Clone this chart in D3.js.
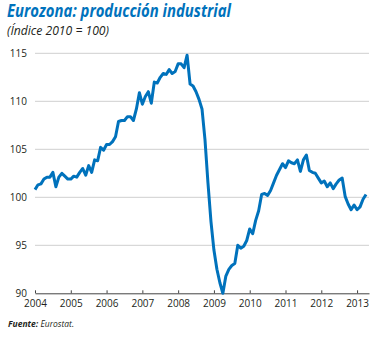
<!DOCTYPE html>
<html lang="es">
  <head>
    <meta charset="UTF-8" />
    <title>Eurozona: producción industrial</title>
    <style>
      body {
        margin: 0;
        background: #fff;
      }
      svg text {
        font-family: "Open Sans", "Noto Sans", sans-serif;
      }
    </style>
  </head>
  <body>
    <script src="https://d3js.org/d3.v7.min.js"></script>
    <script>

// monthly index, Jan 2004 onwards (2010 = 100)
var startYear = 2004;
var values = [
  100.8, 101.3, 101.4, 101.9, 102.1, 102.1, 102.6, 101.1, 102.1, 102.5, 102.2, 101.9,
  101.9, 102.2, 102.1, 102.6, 103.0, 102.3, 103.3, 102.6, 103.9, 103.8, 105.2, 104.9,
  105.5, 105.5, 105.8, 106.3, 107.9, 108.0, 108.0, 108.4, 108.4, 108.0, 109.2, 110.9,
  109.7, 110.5, 111.0, 109.8, 112.0, 111.9, 112.5, 112.9, 112.8, 113.3, 112.9, 113.1,
  113.9, 113.9, 113.5, 114.8, 111.8, 111.6, 111.0, 110.2, 109.2, 106.0, 101.5, 97.5,
  94.5, 92.5, 91.1, 90.0, 91.8, 92.5, 92.9, 93.1, 95.0, 94.7, 94.9, 95.5,
  96.7, 96.2, 97.6, 98.6, 100.3, 100.4, 100.2, 100.7, 101.5, 102.3, 102.9, 103.5,
  103.1, 103.8, 103.6, 103.5, 103.9, 102.7, 103.9, 104.4, 102.8, 102.6, 102.5, 102.0,
  101.5, 101.7, 101.1, 101.5, 100.9, 101.4, 101.8, 102.0, 100.1, 99.3, 98.7, 99.2,
  98.7, 99.0, 99.8, 100.3
];
var years = [2004, 2005, 2006, 2007, 2008, 2009, 2010, 2011, 2012, 2013];
var yTicks = [90, 95, 100, 105, 110, 115];

var width = 382,
    height = 338;

var svg = d3.select("body").append("svg")
  .attr("width", width)
  .attr("height", height);

var x = d3.scaleLinear()
  .domain([startYear, startYear + 112 / 12])
  .range([35, 369]);

var y = d3.scaleLinear()
  .domain([90, 115])
  .range([293.3, 53.3]);

// titles
svg.append("text")
  .attr("x", 7)
  .attr("y", 17)
  .attr("fill", "#0072bc")
  .attr("font-size", 17)
  .attr("font-weight", "bold")
  .attr("font-style", "italic")
  .attr("textLength", 224)
  .attr("lengthAdjust", "spacingAndGlyphs")
  .text("Eurozona: producción industrial");

svg.append("text")
  .attr("x", 7)
  .attr("y", 35)
  .attr("fill", "#231f20")
  .attr("font-size", 13)
  .attr("font-style", "italic")
  .attr("textLength", 102)
  .attr("lengthAdjust", "spacingAndGlyphs")
  .text("(Índice 2010 = 100)");

// grid
svg.append("g")
  .selectAll("line")
  .data(yTicks.filter(function(d){ return d > 90; }))
  .enter()
  .append("line")
  .attr("x1", x.range()[0])
  .attr("x2", x.range()[1])
  .attr("y1", function(d){ return y(d); })
  .attr("y2", function(d){ return y(d); })
  .attr("stroke", "#cfcfcf")
  .attr("stroke-width", 1);

// y labels
svg.append("g")
  .selectAll("text")
  .data(yTicks)
  .enter()
  .append("text")
  .attr("x", 27)
  .attr("y", function(d){ return y(d) + 3.5; })
  .attr("text-anchor", "end")
  .attr("font-size", 10)
  .attr("fill", "#231f20")
  .text(function(d){ return d; });

// x axis
var xAxis = svg.append("g")
  .attr("transform", "translate(0," + y(90) + ")")
  .call(d3.axisBottom(x).tickValues(years).tickFormat(d3.format("d")).tickSizeInner(-3).tickSizeOuter(0).tickPadding(7));

xAxis.select(".domain").attr("stroke", "#444");
xAxis.selectAll(".tick line").attr("stroke", "#444");
xAxis.selectAll(".tick text")
  .attr("font-size", 10)
  .attr("font-family", "\"Open Sans\", sans-serif")
  .attr("fill", "#231f20");

// line
var line = d3.line()
  .x(function(d, i){ return x(startYear + i / 12); })
  .y(function(d){ return y(d); });

svg.append("path")
  .datum(values)
  .attr("d", line)
  .attr("fill", "none")
  .attr("stroke", "#0072bc")
  .attr("stroke-width", 3)
  .attr("stroke-linejoin", "round");

// source
var src = svg.append("text")
  .attr("x", 8)
  .attr("y", 327)
  .attr("font-size", 8.5)
  .attr("font-style", "italic")
  .attr("fill", "#231f20");
src.append("tspan").attr("font-weight", "bold").text("Fuente:");
src.append("tspan").text(" Eurostat.");

</script>
  </body>
</html>
